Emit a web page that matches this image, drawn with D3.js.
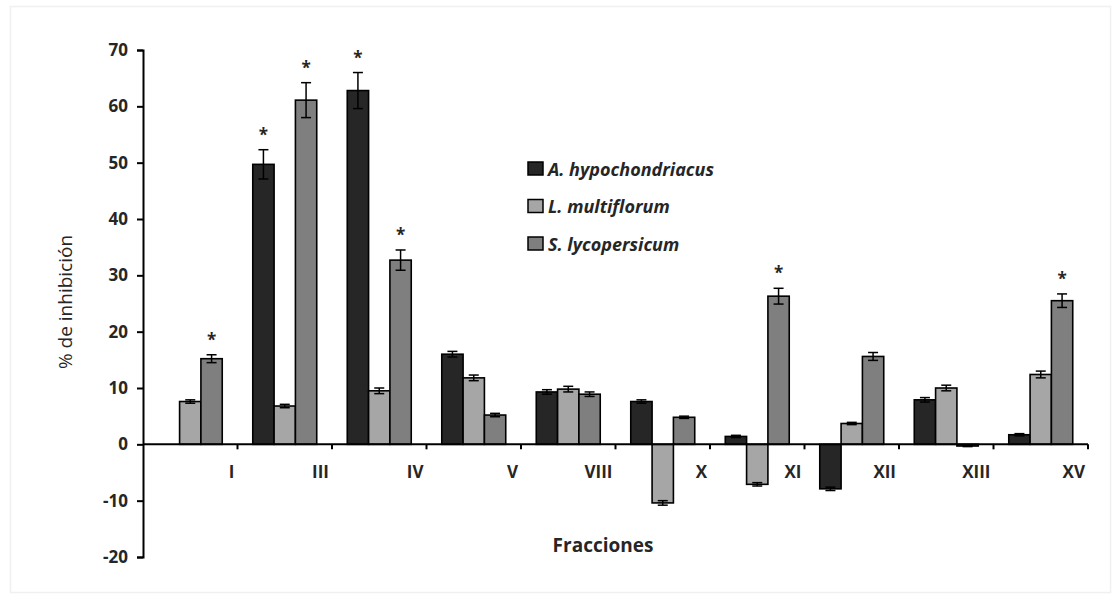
<!DOCTYPE html>
<html>
<head>
<meta charset="utf-8">
<script src="https://d3js.org/d3.v7.min.js"></script>
<style>
  html, body { margin: 0; padding: 0; background: #fff; }
  svg { display: block; }
</style>
</head>
<body>
<div id="chart"></div>
<script>
// ---- Data ----
const categories = ["I", "III", "IV", "V", "VIII", "X", "XI", "XII", "XIII", "XV"];
const seriesNames = ["A. hypochondriacus", "L. multiflorum", "S. lycopersicum"];
const seriesColors = ["#262626", "#a6a6a6", "#7f7f7f"];

const hypochondriacus = [null, 49.7, 62.8, 16.0, 9.3, 7.6, 1.4, -7.9, 7.9, 1.7];
const multiflorum     = [7.6, 6.8, 9.5, 11.8, 9.8, -10.4, -7.1, 3.7, 10.0, 12.4];
const lycopersicum    = [15.2, 61.1, 32.7, 5.2, 8.9, 4.8, 26.3, 15.6, -0.3, 25.5];

const errHypo = [0, 2.6, 3.2, 0.5, 0.4, 0.3, 0.2, 0.3, 0.4, 0.2];
const errMulti = [0.3, 0.3, 0.5, 0.5, 0.5, 0.4, 0.3, 0.2, 0.5, 0.6];
const errLyco = [0.7, 3.1, 1.8, 0.3, 0.4, 0.2, 1.4, 0.7, 0.1, 1.2];

// significance markers (1 = asterisk)
const sigHypo  = [0, 1, 1, 0, 0, 0, 0, 0, 0, 0];
const sigMulti = [0, 0, 0, 0, 0, 0, 0, 0, 0, 0];
const sigLyco  = [1, 1, 1, 0, 0, 0, 1, 0, 0, 1];

const yTicks = [-20, -10, 0, 10, 20, 30, 40, 50, 60, 70];

const seriesValues = [hypochondriacus, multiflorum, lycopersicum];
const seriesErrors = [errHypo, errMulti, errLyco];
const seriesSig = [sigHypo, sigMulti, sigLyco];

// ---- Layout ----
const W = 1115, H = 597;
const plotLeft = 143, plotRight = 1088;
const svg = d3.select("#chart").append("svg").attr("width", W).attr("height", H);

// faint frame
svg.append("rect").attr("x", 10.5).attr("y", 6.5).attr("width", 1100).attr("height", 586)
  .attr("fill", "none").attr("stroke", "#f0f0f0").attr("stroke-width", 1.5);

const y = d3.scaleLinear().domain([-20, 70]).range([557, 50]);
const x0 = d3.scaleBand().domain(categories).range([plotLeft, plotRight])
  .paddingInner(0.323).paddingOuter(0.1615);
const x1 = d3.scaleBand().domain(seriesNames).range([0, x0.bandwidth()]);

const fontMain = "'Open Sans', 'DejaVu Sans', sans-serif";
const textCol = "#262626";

// Bars
const barData = [];
categories.forEach((c, i) => {
  seriesNames.forEach((s, j) => {
    const v = seriesValues[j][i];
    if (v === null) return;
    barData.push({ cat: c, s, j, v, e: seriesErrors[j][i], sig: seriesSig[j][i] });
  });
});

const g = svg.append("g");
g.selectAll("rect.bar").data(barData).enter().append("rect")
  .attr("class", "bar")
  .attr("x", d => x0(d.cat) + x1(d.s))
  .attr("width", x1.bandwidth())
  .attr("y", d => y(Math.max(0, d.v)))
  .attr("height", d => Math.abs(y(d.v) - y(0)))
  .attr("fill", d => seriesColors[d.j])
  .attr("stroke", "#000")
  .attr("stroke-width", 1.6);

// Error bars
const capW = 5;
const cx = d => x0(d.cat) + x1(d.s) + x1.bandwidth() / 2;
const eb = g.selectAll("g.err").data(barData.filter(d => d.e > 0)).enter().append("g").attr("class", "err")
  .attr("stroke", "#000").attr("stroke-width", 1.5);
eb.append("line")
  .attr("x1", cx).attr("x2", cx)
  .attr("y1", d => y(d.v - d.e)).attr("y2", d => y(d.v + d.e));
eb.append("line")
  .attr("x1", d => cx(d) - capW).attr("x2", d => cx(d) + capW)
  .attr("y1", d => y(d.v + d.e)).attr("y2", d => y(d.v + d.e));
eb.append("line")
  .attr("x1", d => cx(d) - capW).attr("x2", d => cx(d) + capW)
  .attr("y1", d => y(d.v - d.e)).attr("y2", d => y(d.v - d.e));

// Asterisks
g.selectAll("text.sig").data(barData.filter(d => d.sig)).enter().append("text")
  .attr("class", "sig")
  .attr("x", cx)
  .attr("y", d => y(d.v + d.e) - 9)
  .attr("text-anchor", "middle")
  .attr("font-family", fontMain)
  .attr("font-size", 17)
  .attr("font-weight", "bold")
  .attr("fill", textCol)
  .text("*");

// Y axis
const yAxis = d3.axisLeft(y).tickValues(yTicks).tickSize(6).tickPadding(9).tickFormat(d => String(d));
const yg = svg.append("g").attr("transform", `translate(${plotLeft},0)`).call(yAxis);
yg.select(".domain").attr("stroke", "#000").attr("stroke-width", 2);
yg.selectAll(".tick line").attr("stroke", "#000").attr("stroke-width", 2);
yg.selectAll(".tick text")
  .attr("font-family", fontMain).attr("font-size", 17).attr("font-weight", "bold").attr("fill", textCol);

// X axis at zero
const xg = svg.append("g").attr("transform", `translate(0,${y(0)})`);
xg.append("line").attr("x1", plotLeft).attr("x2", plotRight).attr("y1", 0).attr("y2", 0)
  .attr("stroke", "#000").attr("stroke-width", 2);
const tickPos = categories.map(c => x0(c) - x0.step() * x0.paddingInner() / 2 + x0.step());
xg.selectAll("line.xt").data(tickPos).enter().append("line").attr("class", "xt")
  .attr("x1", d => d).attr("x2", d => d).attr("y1", 0).attr("y2", 5)
  .attr("stroke", "#000").attr("stroke-width", 2);
xg.selectAll("text.xl").data(categories).enter().append("text").attr("class", "xl")
  .attr("x", (c, i) => tickPos[i] - 3)
  .attr("y", 34)
  .attr("text-anchor", "end")
  .attr("font-family", fontMain).attr("font-size", 17).attr("font-weight", "bold").attr("fill", textCol)
  .text(c => c);

// Axis titles
svg.append("text")
  .attr("transform", "translate(72,302) rotate(-90)")
  .attr("text-anchor", "middle")
  .attr("font-family", fontMain).attr("font-size", 19).attr("fill", textCol)
  .text("% de inhibición");
svg.append("text")
  .attr("x", 603).attr("y", 552)
  .attr("text-anchor", "middle")
  .attr("font-family", fontMain).attr("font-size", 19).attr("font-weight", "bold").attr("fill", textCol)
  .text("Fracciones");

// Legend
const lg = svg.append("g").attr("transform", "translate(528,169)");
const li = lg.selectAll("g").data(seriesNames).enter().append("g")
  .attr("transform", (d, i) => `translate(0,${i * 37.5})`);
li.append("rect").attr("x", 0).attr("y", -7).attr("width", 15).attr("height", 13)
  .attr("fill", (d, i) => seriesColors[i]).attr("stroke", "#000").attr("stroke-width", 1.5);
li.append("text").attr("x", 20).attr("y", 6.5)
  .attr("font-family", fontMain).attr("font-size", 18).attr("font-weight", "bold").attr("font-style", "italic")
  .attr("fill", textCol)
  .text(d => d);
</script>
</body>
</html>
